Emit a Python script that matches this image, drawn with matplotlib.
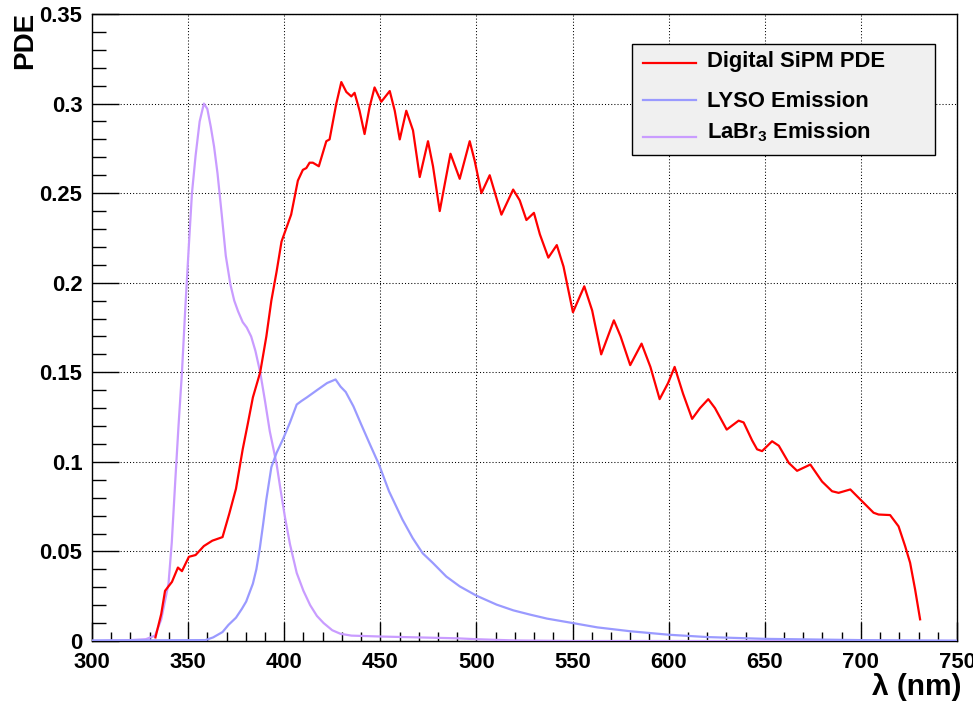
'''
Digital SiPM PDE compared with the
LYSO and LaBr3 emission spectra
'''

import matplotlib
matplotlib.use("Agg")
import matplotlib.pyplot as plt
from matplotlib.patches import Rectangle
from matplotlib.lines import Line2D
from matplotlib.ticker import MultipleLocator

# values
sipmWave = [333, 336, 338, 341.6, 344.7, 346.8, 350.4, 353.9, 358.2, 362.6, 367.9,
            371.4, 374.9, 378.4, 381, 383.7, 387.5, 390.7, 393.3, 396, 398.6,
            403.6, 407.1, 409.7, 411.5, 413.2, 414.9, 418, 421.9, 423.6, 427.1,
            429.7, 432.3, 434.9, 436.6, 439.2, 441.8, 444.4, 447, 450.5, 454.9,
            457.5, 460.1, 463.5, 467, 470.5, 474.8, 477.4, 480.9, 483.5, 486.5,
            491.3, 496.5, 499.1, 502.6, 506.9, 513, 519.1, 522.5, 526, 529.9,
            533, 537.4, 541.8, 545.3, 550.2, 556.1, 560.2, 564.9, 571.5, 575,
            580, 585.9, 590.5, 595.3, 599.7, 603.1, 607.5, 612.2, 616.3, 620.6,
            624.1, 630.2, 636.4, 639, 643.4, 646, 648.6, 653.8, 657.3, 662.5,
            666.8, 673.7, 679.8, 685, 688.4, 694.5, 699.7, 706.6, 709.2, 715.2,
            719.6, 723, 725.6, 728.2, 730.8]
sipmPDE = [0.002, 0.015, 0.028, 0.033, 0.041, 0.039, 0.047, 0.048, 0.053, 0.056, 0.058,
           0.071, 0.085, 0.107, 0.121, 0.136, 0.150, 0.170, 0.190, 0.206, 0.223,
           0.238, 0.257, 0.263, 0.264, 0.267, 0.267, 0.265, 0.279, 0.280, 0.300,
           0.312, 0.3065, 0.304, 0.306, 0.296, 0.283, 0.298, 0.309, 0.301, 0.307,
           0.296, 0.280, 0.296, 0.285, 0.259, 0.279, 0.265, 0.240, 0.255, 0.272,
           0.258, 0.279, 0.268, 0.250, 0.260, 0.238, 0.252, 0.246, 0.235, 0.239,
           0.227, 0.214, 0.221, 0.209, 0.1835, 0.198, 0.1845, 0.160, 0.179, 0.170,
           0.154, 0.166, 0.153, 0.135, 0.144, 0.153, 0.138, 0.124, 0.130, 0.135,
           0.130, 0.118, 0.123, 0.122, 0.112, 0.107, 0.106, 0.1115, 0.109, 0.0994,
           0.095, 0.0985, 0.089, 0.0836, 0.0827, 0.0846, 0.079, 0.0716, 0.0706, 0.0703,
           0.064, 0.053, 0.0437, 0.0288, 0.0121]

lysoWave = [300, 359, 363, 367.9, 371, 374.9, 378, 380.2, 383.7, 385.5, 387.2, 389,
            390.7, 393.3, 396, 399.5, 403, 406.5, 409, 411.8, 417, 422.3, 426.7,
            429.3, 432, 436, 440, 444.5, 449.3, 454.5, 461.5, 466.8, 472, 477.3,
            484.3, 491.3, 500, 510.5, 519.2, 528, 536.7, 550.2, 562.9, 580.4, 600,
            620, 650, 700, 750]
lysoEm = [0.0003, 0.0005, 0.002, 0.005, 0.009, 0.013, 0.018, 0.022, 0.032, 0.040, 0.051, 0.065,
          0.079, 0.097, 0.105, 0.113, 0.122, 0.132, 0.134, 0.136, 0.140, 0.144, 0.146,
          0.142, 0.139, 0.131, 0.121, 0.110, 0.0985, 0.0836, 0.0678, 0.0575, 0.049, 0.0436,
          0.036, 0.0305, 0.0253, 0.0203, 0.0171, 0.0147, 0.0125, 0.0100, 0.0076, 0.0054, 0.0035,
          0.0022, 0.0012, 0.0005, 0.0002]

labrWave = [300, 320, 328, 332.8, 336, 339.8, 341.5, 343.3, 345, 346.8, 348.5, 350.4,
            352, 353.9, 356, 358.2, 360, 361.8, 363.5, 365.3, 367.5, 369.6, 372, 374,
            376, 378.4, 380.5, 382.8, 385, 387.5, 390, 392.5, 396, 398, 400.4, 403,
            406.5, 410, 413.5, 417, 420.5, 425, 429.3, 435, 450, 470, 490, 500, 520,
            550, 750]
labrEm = [0.0, 0.0005, 0.001, 0.003, 0.012, 0.032, 0.055, 0.089, 0.12, 0.150, 0.185, 0.221,
          0.25, 0.271, 0.29, 0.300, 0.297, 0.287, 0.276, 0.261, 0.238, 0.215, 0.199, 0.190,
          0.184, 0.178, 0.175, 0.170, 0.162, 0.150, 0.134, 0.117, 0.099, 0.085, 0.069, 0.054,
          0.038, 0.028, 0.020, 0.014, 0.010, 0.006, 0.004, 0.003, 0.0025, 0.002, 0.0015, 0.001, 0.0003,
          0.0, 0.0]

yTicks = [0, 0.05, 0.1, 0.15, 0.2, 0.25, 0.3, 0.35]
yTickLabels = ["0", "0.05", "0.1", "0.15", "0.2", "0.25", "0.3", "0.35"]

names = ["Digital SiPM PDE", "LYSO Emission", r"LaBr$_\mathbf{3}$ Emission"]
colours = ["#ff0000", "#9a9aff", "#c99cff"]

#################################

if __name__ == "__main__":
  '''Main block'''

  plt.rcParams['font.family'] = ['Liberation Sans', 'DejaVu Sans']
  plt.rcParams['font.weight'] = 'bold'
  plt.rcParams['mathtext.fontset'] = 'custom'
  plt.rcParams['mathtext.rm'] = 'Liberation Sans:bold'
  plt.rcParams['mathtext.bf'] = 'Liberation Sans:bold'

  fig = plt.figure(figsize=(9.73, 7.05), dpi=100)
  ax = fig.add_axes([92/973, 64/705, 865/973, 627/705])

  # draw the three curves, emission first so the PDE sits on top
  ax.plot(labrWave, labrEm, color=colours[2], lw=1.6, zorder=3)
  ax.plot(lysoWave, lysoEm, color=colours[1], lw=1.6, zorder=3)
  ax.plot(sipmWave, sipmPDE, color=colours[0], lw=1.6, zorder=4)

  ax.set_xlim(300, 750)
  ax.set_ylim(0, 0.35)
  ax.xaxis.set_major_locator(MultipleLocator(50))
  ax.xaxis.set_minor_locator(MultipleLocator(10))
  ax.set_yticks(yTicks)
  ax.set_yticklabels(yTickLabels)
  ax.yaxis.set_minor_locator(MultipleLocator(0.01))

  ax.tick_params(axis='both', which='both', direction='in', labelsize=15.8, width=1)
  ax.tick_params(axis='x', which='major', length=13.7, pad=8)
  ax.tick_params(axis='x', which='minor', length=6.8)
  ax.tick_params(axis='y', which='major', length=19.4, pad=7)
  ax.tick_params(axis='y', which='minor', length=10)

  ax.grid(True, which='major', color='black', linestyle=(0, (1, 2)), lw=0.75, zorder=1)
  for s in ax.spines.values():
    s.set_linewidth(1)

  # legend box drawn by hand to match the ROOT layout
  box = Rectangle((0.6243, 0.7751), 0.3503, 0.1771, transform=ax.transAxes,
                  facecolor='#f0f0f0', edgecolor='black', lw=1, zorder=5)
  ax.add_patch(box)
  lineY = [0.9223, 0.8628, 0.8043]
  textY = [0.915, 0.8522, 0.8018]
  for i in range(3):
    ax.add_line(Line2D([0.637, 0.698], [lineY[i], lineY[i]], transform=ax.transAxes,
                       color=colours[i], lw=1.6, zorder=6))
    ax.text(0.711, textY[i], names[i], transform=ax.transAxes, fontsize=15.8,
            fontweight='bold', va='baseline', ha='left', zorder=6)

  fig.text(25/973, 1 - 12/705, "PDE", rotation=90, ha='center', va='top',
           fontsize=20, fontweight='bold')
  fig.text(962/973, 10/705, "λ (nm)", ha='right', va='baseline',
           fontsize=21.5, fontweight='bold')

  plt.savefig("out.png", dpi=100)
